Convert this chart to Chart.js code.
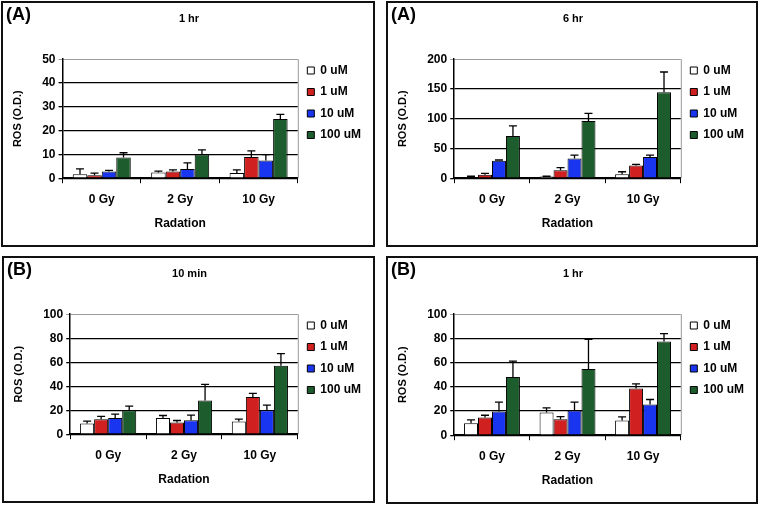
<!DOCTYPE html>
<html>
<head>
<meta charset="utf-8">
<script src="https://cdn.jsdelivr.net/npm/chart.js@4.4.1/dist/chart.umd.min.js"></script>
<style>
  body { margin: 0; background: #fff; width: 761px; height: 505px; position: relative; overflow: hidden; font-family: "Liberation Sans", Arial, sans-serif; }
  .panel { position: absolute; border: 2px solid #111; box-sizing: border-box; }
  .panel canvas { position: absolute; left: 0; top: 0; }
  .tag { position: absolute; left: 3px; top: 1px; font: bold 18px "Liberation Sans", Arial, sans-serif; color: #000; }
</style>
</head>
<body>
<div class="panel" id="p1" style="left:1px;top:1px;width:374px;height:246px;"><canvas id="c1"></canvas><div class="tag">(A)</div></div>
<div class="panel" id="p2" style="left:386px;top:1px;width:372px;height:246px;"><canvas id="c2"></canvas><div class="tag">(A)</div></div>
<div class="panel" id="p3" style="left:2px;top:256px;width:373px;height:247px;"><canvas id="c3"></canvas><div class="tag">(B)</div></div>
<div class="panel" id="p4" style="left:386px;top:256px;width:372px;height:248px;"><canvas id="c4"></canvas><div class="tag">(B)</div></div>
<script>
const groups = ['0 Gy', '2 Gy', '10 Gy'];
const doses = ['0 uM', '1 uM', '10 uM', '100 uM'];
const doseColors = ['#ffffff', '#d02020', '#1a35f0', '#1d5c2c'];

// (A) 1 hr   rows = doses, columns = groups
const a1hrMeans = [[1.7, 2.4, 2.2], [1.2, 2.8, 8.9], [2.8, 3.9, 7.4], [8.7, 10.0, 24.9]];
const a1hrErrs  = [[2.2, 0.6, 1.3], [0.9, 0.7, 2.6], [0.5, 2.5, 2.5], [2.0, 1.9, 1.9]];
// (A) 6 hr
const a6hrMeans = [[1.5, 2.8, 6.8], [6.0, 13.3, 21.5], [29.4, 33.3, 35.6], [71, 96, 144.5]];
const a6hrErrs  = [[1.8, 0.5, 4.0], [2.0, 4.5, 1.8], [1.2, 5.6, 3.3], [17, 12.8, 34]];
// (B) 10 min
const b10minMeans = [[8.9, 13.6, 10.6], [12.5, 9.7, 30.9], [13.4, 11.7, 20.0], [20.0, 28.1, 57.1]];
const b10minErrs  = [[2.0, 2.0, 1.9], [2.3, 1.7, 3.1], [3.3, 4.2, 4.2], [3.4, 13.4, 10.0]];
// (B) 1 hr
const b1hrMeans = [[9.9, 18.7, 12.1], [14.6, 13.2, 38.6], [19.6, 20.4, 25.3], [48.2, 54.8, 77.4]];
const b1hrErrs  = [[2.8, 3.9, 3.1], [1.9, 2.2, 3.8], [7.7, 6.9, 4.2], [13, 24.5, 6.6]];

const FONT = '"Liberation Sans", Arial, sans-serif';

// upward error bars with caps
const errorBars = {
  id: 'errorBars',
  afterDatasetsDraw(chart) {
    const { ctx, scales: { y } } = chart;
    ctx.save();
    ctx.strokeStyle = '#000';
    ctx.lineWidth = 1.3;
    chart.data.datasets.forEach((ds, i) => {
      chart.getDatasetMeta(i).data.forEach((bar, j) => {
        const top = y.getPixelForValue(ds.data[j] + ds.errors[j]);
        ctx.beginPath();
        ctx.moveTo(bar.x, bar.y);
        ctx.lineTo(bar.x, top);
        ctx.moveTo(bar.x - 4, top);
        ctx.lineTo(bar.x + 4, top);
        ctx.stroke();
      });
    });
    ctx.restore();
  }
};

// thin grey right edge of the plot area
const plotEdge = {
  id: 'plotEdge',
  beforeDatasetsDraw(chart) {
    const { ctx, chartArea: a } = chart;
    ctx.save();
    ctx.strokeStyle = '#9a9a9a';
    ctx.lineWidth = 1;
    ctx.beginPath();
    ctx.moveTo(a.right + 0.5, a.top);
    ctx.lineTo(a.right + 0.5, a.bottom);
    ctx.stroke();
    ctx.restore();
  }
};

function makeChart(id, panelId, title, means, errs, max, step) {
  const panel = document.getElementById(panelId);
  const cv = document.getElementById(id);
  cv.width = panel.clientWidth;
  cv.height = panel.clientHeight;
  cv.style.width = cv.width + 'px';
  cv.style.height = cv.height + 'px';

  return new Chart(cv, {
    type: 'bar',
    data: {
      labels: groups,
      datasets: doses.map((d, i) => ({
        label: d,
        data: means[i],
        errors: errs[i],
        backgroundColor: doseColors[i],
        borderColor: '#000',
        borderWidth: 1,
        borderSkipped: 'bottom'
      }))
    },
    options: {
      responsive: false,
      animation: false,
      devicePixelRatio: 1,
      categoryPercentage: 0.74,
      barPercentage: 1,
      layout: { padding: { left: 4, right: 2, top: 0, bottom: 10 } },
      plugins: {
        title: {
          display: true,
          text: title,
          color: '#000',
          font: { family: FONT, size: 11, weight: 'bold' },
          padding: { top: 9, bottom: 34 }
        },
        legend: {
          position: 'right',
          align: 'start',
          title: { display: true, text: ' ', font: { family: FONT, size: 10 }, padding: { top: 0, bottom: 40 } },
          labels: {
            boxWidth: 7,
            boxHeight: 7,
            padding: 9.5,
            color: '#000',
            font: { family: FONT, size: 12, weight: 'bold' }
          }
        },
        tooltip: { enabled: false }
      },
      scales: {
        x: {
          grid: { offset: true, drawOnChartArea: false, color: '#000', tickLength: 5, lineWidth: 1 },
          border: { color: '#000', width: 1.5 },
          ticks: { color: '#000', font: { family: FONT, size: 12, weight: 'bold' }, padding: 9 },
          title: { display: true, text: 'Radation', color: '#000', font: { family: FONT, size: 12, weight: 'bold' }, padding: { top: 1 } }
        },
        y: {
          min: 0,
          max: max,
          ticks: { stepSize: step, color: '#000', font: { family: FONT, size: 12, weight: 'bold' }, padding: 3 },
          grid: {
            color: c => (c.tick && c.tick.value === max ? '#9a9a9a' : '#000'),
            lineWidth: c => (c.tick && c.tick.value === max ? 1 : 1.3),
            tickLength: 4
          },
          border: { color: '#000', width: 1.5 },
          title: { display: true, text: 'ROS (O.D.)', color: '#000', font: { family: FONT, size: 11, weight: 'bold' }, padding: { bottom: 15 } }
        }
      }
    },
    plugins: [errorBars, plotEdge]
  });
}

makeChart('c1', 'p1', '1 hr', a1hrMeans, a1hrErrs, 50, 10);
makeChart('c2', 'p2', '6 hr', a6hrMeans, a6hrErrs, 200, 50);
makeChart('c3', 'p3', '10 min', b10minMeans, b10minErrs, 100, 20);
makeChart('c4', 'p4', '1 hr', b1hrMeans, b1hrErrs, 100, 20);
</script>
</body>
</html>
